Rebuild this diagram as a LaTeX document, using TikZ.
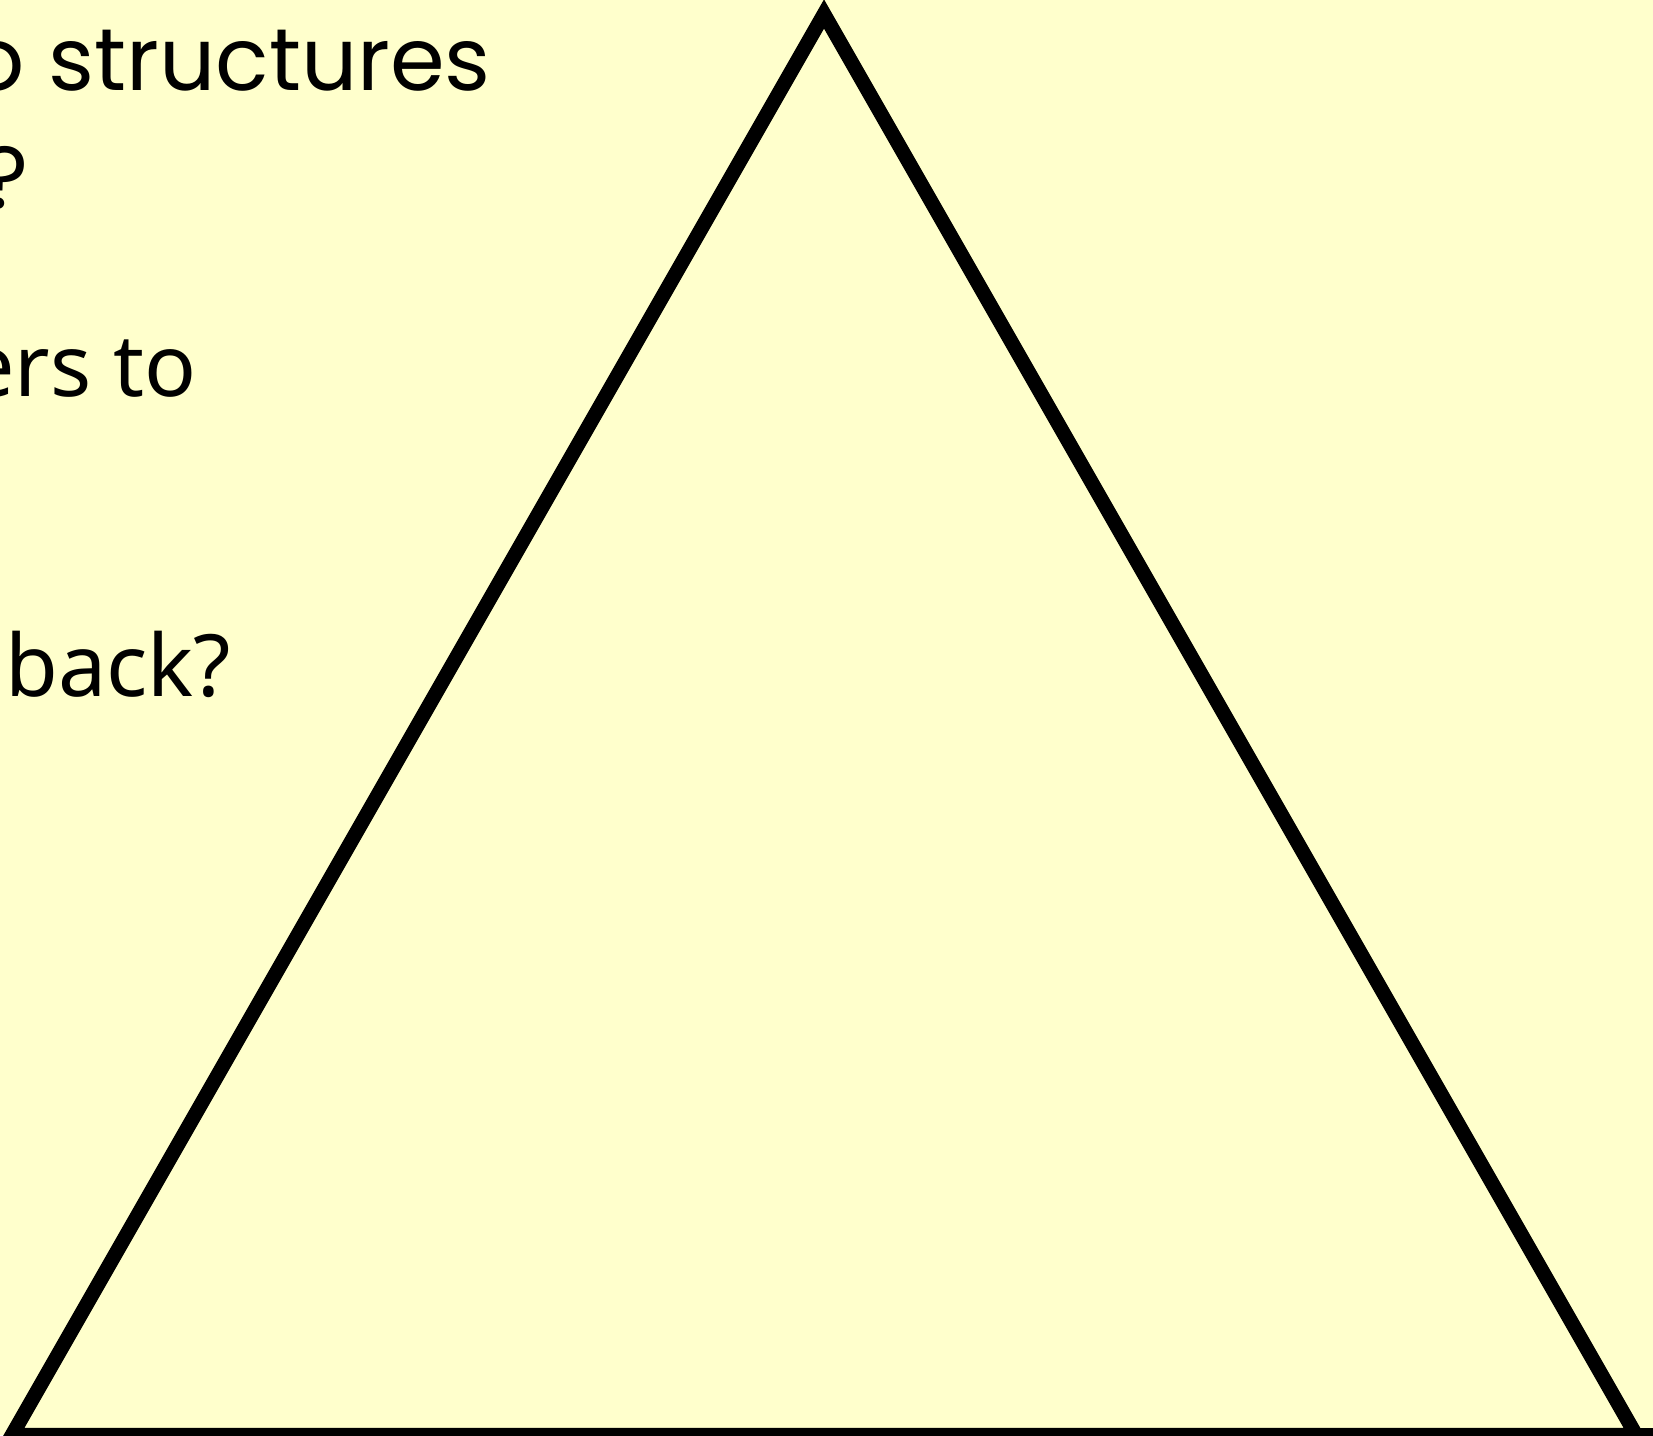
\documentclass[tikz,border=0pt]{standalone}
\usepackage{fontspec}
\newfontfamily\headfont{Poppins}
\newfontfamily\bodyfont{Noto Sans}
\definecolor{paper}{HTML}{FFFFCC}
\begin{document}
\begin{tikzpicture}[x=1pt,y=-1pt,
  headtxt/.style={inner sep=0pt, font=\headfont\fontsize{88}{105}\selectfont},
  bodytxt/.style={inner sep=0pt, font=\bodyfont\fontsize{86}{103}\selectfont},
  edge/.style={line width=14.5pt, line join=miter, black}]
\useasboundingbox (0,0) rectangle (1653,1435);
\clip (0,0) rectangle (1653,1435);
\fill[paper] (0,0) rectangle (1653,1435);
% triangle
\coordinate (apex) at (824,14);
\coordinate (bl) at (12,1435);
\coordinate (br) at (1636,1435);
\coordinate (bend) at (1680,1435);
\draw[edge] (bl) -- (apex) -- (br) -- cycle;
\draw[edge] (br) -- (bend);
% texts
\node[headtxt, anchor=base east] (t1) at (491,90.7) {o structures};
\node[headtxt, anchor=base east] (t2) at (29,208) {?};
\node[bodytxt, anchor=base east] (t3) at (197,396.7) {ers to};
\node[bodytxt, anchor=base west] (t4) at (5,696) {back?};
\end{tikzpicture}
\end{document}
